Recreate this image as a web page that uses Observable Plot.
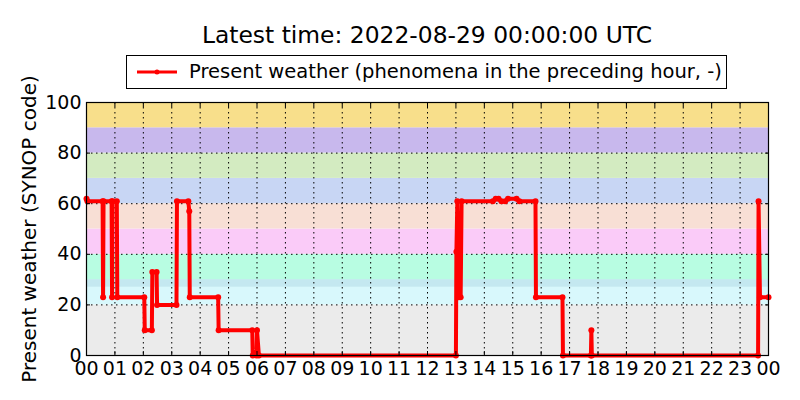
<!DOCTYPE html>
<html>
<head>
<meta charset="utf-8">
<script src="https://cdn.jsdelivr.net/npm/d3@7"></script>
<script src="https://cdn.jsdelivr.net/npm/@observablehq/plot@0.6"></script>
<style>
  body { margin: 0; background: #fff; font-family: "DejaVu Sans", sans-serif; }
  #head { position: relative; width: 800px; height: 95px; }
  #title { position: absolute; left: 0; width: 854px; top: 23px; line-height: 24px; text-align: center; font-size: 23.4px; }
  #legend { position: absolute; left: 126px; top: 55px; width: 599px; height: 32px; border: 1px solid #000; background: #fff; }
  #legend svg { position: absolute; left: 8px; top: 7px; }
  #legend span { position: absolute; left: 62px; top: 5px; line-height: 22px; font-size: 19.5px; white-space: nowrap; }
  #chart svg { overflow: visible; }
</style>
</head>
<body>
<div id="head">
  <div id="title">Latest time: 2022-08-29 00:00:00 UTC</div>
  <div id="legend">
    <svg width="44" height="18"><line x1="2" x2="42" y1="9" y2="9" stroke="red" stroke-width="3"/><circle cx="22" cy="9" r="2.5" fill="red"/></svg>
    <span>Present weather (phenomena in the preceding hour, -)</span>
  </div>
</div>
<div id="chart"></div>
<script>
// observations on 2022-08-28 (UTC), "HH:MM" and SYNOP present weather code
const obsTimes = [
  "00:00", "00:02", "00:34", "00:35", "00:36", "00:53", "00:54", "00:55", "01:04", "01:05",
  "02:02", "02:03", "02:18", "02:19", "02:28", "02:29", "03:10", "03:11", "03:35", "03:37",
  "03:38", "04:38", "04:39", "05:50", "05:51", "05:59", "06:00", "06:04", "13:00", "13:01",
  "13:03", "13:06", "13:08", "13:10", "13:12", "14:18", "14:24", "14:30", "14:36", "14:44",
  "14:50", "15:08", "15:14", "15:48", "15:49", "16:45", "16:46", "17:45", "17:46", "17:47",
  "23:38", "23:39", "23:42", "24:00"
];
const obsCodes = [
  62, 61, 61, 23, 61, 61, 23, 61, 61, 23,
  23, 10, 10, 33, 33, 20, 20, 61, 61, 57,
  23, 23, 10, 10, 0, 0, 10, 0, 0, 41,
  61, 23, 41, 23, 61, 61, 62, 62, 61, 61,
  62, 62, 61, 61, 23, 23, 0, 0, 10, 0,
  0, 61, 23, 23
];

// background bands of the code groups
const bandLow = [0, 20, 27, 30, 40, 50, 60, 70, 80, 90];
const bandHigh = [20, 30, 30, 40, 50, 60, 70, 80, 90, 100];
const bandColor = ["#ebebeb", "#d8f8fc", "#c4e8f0", "#b8fde2", "#facbf8",
                   "#f8dfd5", "#c8d6f4", "#d3ebc1", "#c8b8ed", "#f8df8b"];

const yTicks = [0, 20, 40, 60, 80, 100];
const hourLabels = ["00","01","02","03","04","05","06","07","08","09","10","11",
                    "12","13","14","15","16","17","18","19","20","21","22","23","00"];

const t0 = new Date("2022-08-28T00:00:00Z");
const t1 = new Date("2022-08-29T00:00:00Z");
const toDate = s => {
  const [h, m] = s.split(":").map(Number);
  return new Date(t0.getTime() + (h * 60 + m) * 60000);
};

const obs = obsTimes.map((t, i) => ({time: toDate(t), code: obsCodes[i]}));
const bands = bandLow.map((lo, i) => ({lo, hi: bandHigh[i], color: bandColor[i]}));
const hourTicks = hourLabels.map((_, i) => new Date(t0.getTime() + i * 3600000));
const innerHours = hourTicks.slice(1, -1);

const chart = Plot.plot({
  width: 800,
  height: 305,
  marginTop: 7,
  marginBottom: 45,
  marginLeft: 86,
  marginRight: 32,
  style: {fontFamily: "DejaVu Sans", fontSize: "18px", color: "#000", background: "#fff", overflow: "visible"},
  x: {type: "utc", domain: [t0, t1]},
  y: {domain: [0, 100]},
  marks: [
    Plot.rect(bands, {x1: () => t0, x2: () => t1, y1: "lo", y2: "hi", fill: "color"}),
    Plot.gridX(innerHours, {stroke: "#000", strokeOpacity: 1, strokeDasharray: "1.5,3.5"}),
    Plot.gridY([20, 40, 60, 80], {stroke: "#000", strokeOpacity: 1, strokeDasharray: "1.5,3.5"}),
    Plot.line(obs, {x: "time", y: "code", stroke: "red", strokeWidth: 4}),
    Plot.dot(obs, {x: "time", y: "code", r: 3, fill: "red"}),
    Plot.axisX(hourTicks, {anchor: "bottom", tickSize: -4, tickPadding: 10,
      tickFormat: (d, i) => hourLabels[i], fontSize: 19, label: null}),
    Plot.axisX(hourTicks, {anchor: "top", tickSize: -4, text: null, label: null}),
    Plot.axisY(yTicks, {anchor: "left", tickSize: -4, tickPadding: 9, fontSize: 19, label: null}),
    Plot.axisY(yTicks, {anchor: "right", tickSize: -4, text: null, label: null}),
    Plot.text(["Present weather (SYNOP code)"], {frameAnchor: "left", textAnchor: "middle",
      rotate: -90, dx: -57, fontSize: 20}),
    Plot.frame({stroke: "#000", strokeWidth: 1.2})
  ]
});

d3.select("#chart").append(() => chart);
</script>
</body>
</html>
